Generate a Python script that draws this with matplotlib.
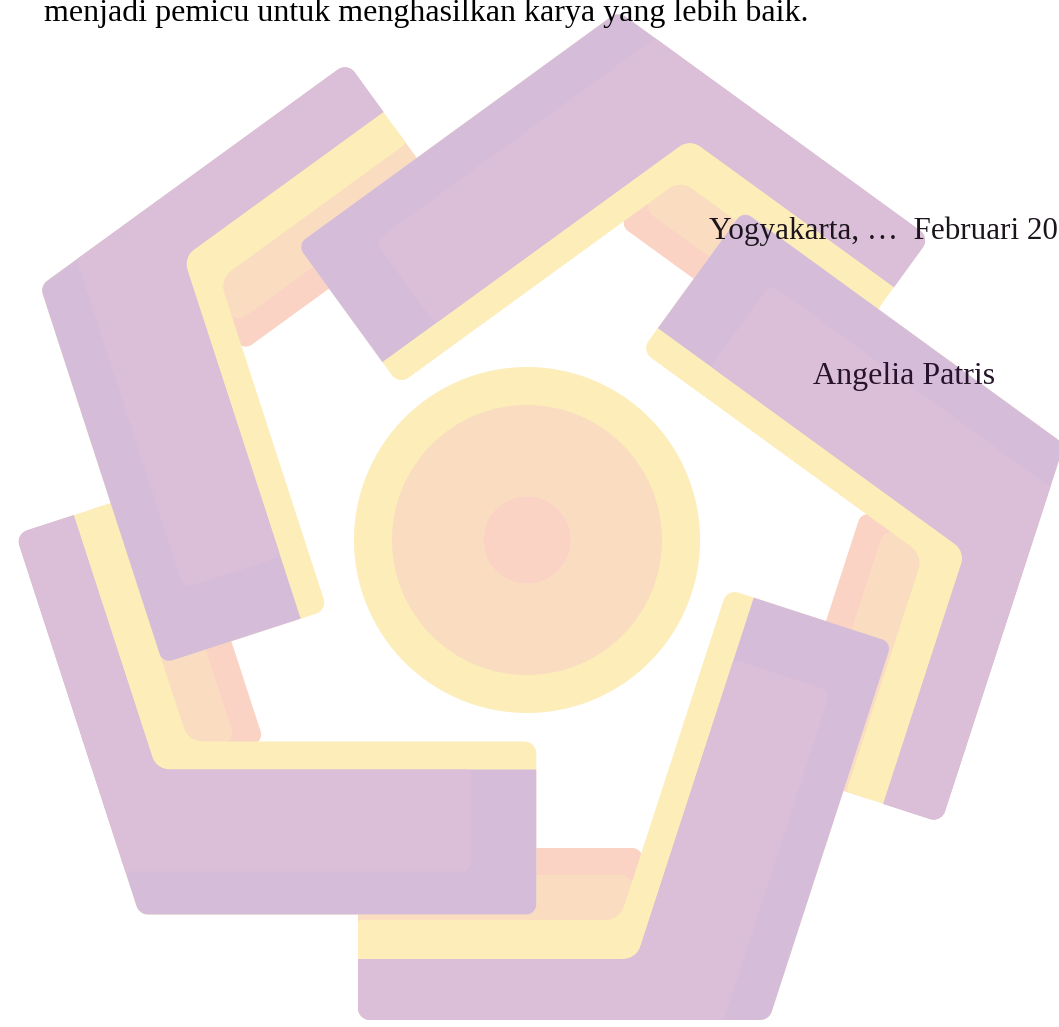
import numpy as np
import matplotlib
matplotlib.use("Agg")
import matplotlib.pyplot as plt
from matplotlib.patches import Polygon, Circle

W, H = 1059, 1027
cx, cy = 527.0, 540.0  # centre of the logo (pixels)

# colours of the watermark
purple_dark = "#D5BDDA"
purple_light = "#DBBFD8"
yellow = "#FCEDB9"
peach = "#FADDC0"
salmon = "#FAD3C5"

# circle in the middle: radius of each ring
circle_r = [173, 135, 43.5]
circle_c = [yellow, peach, salmon]

# one arm (the bottom one), pixels
origin = np.array([769.0, 1020.0])  # outer corner of the arm
thick_angle = 288.0                 # direction of the thick leg
purple_w = [61, 145]    # purple width: layered leg, thick leg
yellow_w = [100, 173]
peach_w = 145
salmon_w = 172
cap_len = 397           # length of thick leg
inset_cap = 65          # light inner part of the purple
inset_edge = 43
# the five arms: rotation, length of layered leg, small shift
arm_rot = [0, 72, 144, 216, 288]
leg_len = [411, 400, 380, 385, 398]
arm_dx = [0, -6, -9, 5, 6]
arm_dy = [0, -4, -8, 2, -14]

# texts
line1 = "menjadi pemicu untuk menghasilkan karya yang lebih baik."
line2 = "Yogyakarta, \u2026  Februari 20"
line3 = "Angelia Patris"
text_x = [44, 709, 813]
text_y = [21, 239, 384]
text_size = [23, 22.4, 23]

tA = np.array([-1.0, 0.0])
nA = np.array([0.0, 1.0])
a = np.deg2rad(thick_angle)
tB = np.array([np.cos(a), np.sin(a)])
nB = np.array([-tB[1], tB[0]])


def meet(l1, l2):
    m = np.array([l1[0], l2[0]])
    return origin + np.linalg.solve(m, np.array([l1[1], l2[1]]))


def fillet(pts, radii, n=10):
    # round the corners of a polygon
    out = []
    k = len(pts)
    for i in range(k):
        p = np.asarray(pts[i]); r = radii[i]
        if r <= 0:
            out.append(p)
            continue
        u = pts[i - 1] - p; u = u / np.linalg.norm(u)
        v = pts[(i + 1) % k] - p; v = v / np.linalg.norm(v)
        ang = np.arccos(np.clip(u @ v, -1, 1))
        d = r / np.tan(ang / 2)
        p1 = p + u * d; p2 = p + v * d
        bis = (u + v) / np.linalg.norm(u + v)
        c = p + bis * r / np.sin(ang / 2)
        a1 = np.arctan2(*(p1 - c)[::-1]); a2 = np.arctan2(*(p2 - c)[::-1])
        da = (a2 - a1 + np.pi) % (2 * np.pi) - np.pi
        for t in np.linspace(0, 1, n):
            out.append(c + r * np.array([np.cos(a1 + da * t), np.sin(a1 + da * t)]))
    return np.array(out)


def rot(pts, deg, dx=0, dy=0):
    t = np.deg2rad(deg)
    d = pts - [cx, cy]
    x = cx + d[:, 0] * np.cos(t) - d[:, 1] * np.sin(t) + dx
    y = cy + d[:, 0] * np.sin(t) + d[:, 1] * np.cos(t) + dy
    return np.column_stack([x, y])


def arm_shapes(L1):
    endA = (tA, L1)
    depA = lambda d: (nA, -d)
    depB = lambda d: (nB, -d)
    cap = lambda s: (tB, s)
    shapes = {}
    shapes["salmon"] = fillet([meet(endA, depA(120)), meet(depA(120), depB(170)),
                               meet(depB(170), depA(salmon_w)),
                               meet(depA(salmon_w), endA)], [0, 0, 10, 0])
    shapes["peach"] = fillet([meet(endA, depA(80)), meet(depA(80), depB(170)),
                              meet(depB(170), depA(peach_w)),
                              meet(depA(peach_w), endA)], [0, 0, 12, 0])
    shapes["yellow"] = fillet([meet(endA, depA(0)), meet(depA(0), depB(0)),
                               meet(depB(0), cap(cap_len)),
                               meet(cap(cap_len), depB(yellow_w[1])),
                               meet(depB(yellow_w[1]), depA(yellow_w[0])),
                               meet(depA(yellow_w[0]), endA)], [12, 12, 10, 12, 20, 3])
    shapes["purple"] = fillet([meet(endA, depA(0)), meet(depA(0), depB(0)),
                               meet(depB(0), cap(cap_len)),
                               meet(cap(cap_len), depB(purple_w[1])),
                               meet(depB(purple_w[1]), depA(purple_w[0])),
                               meet(depA(purple_w[0]), endA)], [12, 12, 10, 0, 18, 0])
    shapes["light"] = fillet([meet(endA, depA(0)), meet(depA(0), depB(inset_edge)),
                              meet(depB(inset_edge), cap(cap_len - inset_cap)),
                              meet(cap(cap_len - inset_cap), depB(purple_w[1])),
                              meet(depB(purple_w[1]), depA(purple_w[0])),
                              meet(depA(purple_w[0]), endA)], [12, 0, 10, 6, 18, 0])
    return shapes


fig = plt.figure(figsize=(W / 100, H / 100), dpi=100)
ax = fig.add_axes([0, 0, 1, 1])
ax.set_xlim(0, W)
ax.set_ylim(H, 0)
ax.axis("off")

for r, c in zip(circle_r, circle_c):
    ax.add_patch(Circle((cx, cy), r, color=c, lw=0, zorder=1))

arms = [arm_shapes(L) for L in leg_len]
place = list(zip(arm_rot, arm_dx, arm_dy))
for layer, col, z in [("salmon", salmon, 2), ("peach", peach, 3), ("yellow", yellow, 4)]:
    for sh, (deg, dx, dy) in zip(arms, place):
        ax.add_patch(Polygon(rot(sh[layer], deg, dx, dy), closed=True, color=col, lw=0, zorder=z))
for k, (sh, (deg, dx, dy)) in enumerate(zip(arms, place)):
    ax.add_patch(Polygon(rot(sh["purple"], deg, dx, dy), closed=True, color=purple_dark, lw=0, zorder=5 + 2 * k))
    ax.add_patch(Polygon(rot(sh["light"], deg, dx, dy), closed=True, color=purple_light, lw=0, zorder=6 + 2 * k))

font = dict(family=["Liberation Serif", "DejaVu Serif"], va="baseline", ha="left", zorder=30)
ax.text(text_x[0], text_y[0], line1, color="black", fontsize=text_size[0], **font)
ax.text(text_x[1], text_y[1], line2, color="#1c141c", fontsize=text_size[1], **font)
ax.text(text_x[2], text_y[2], line3, color="#26142a", fontsize=text_size[2], **font)

fig.savefig("out.png", dpi=100, facecolor="white")
